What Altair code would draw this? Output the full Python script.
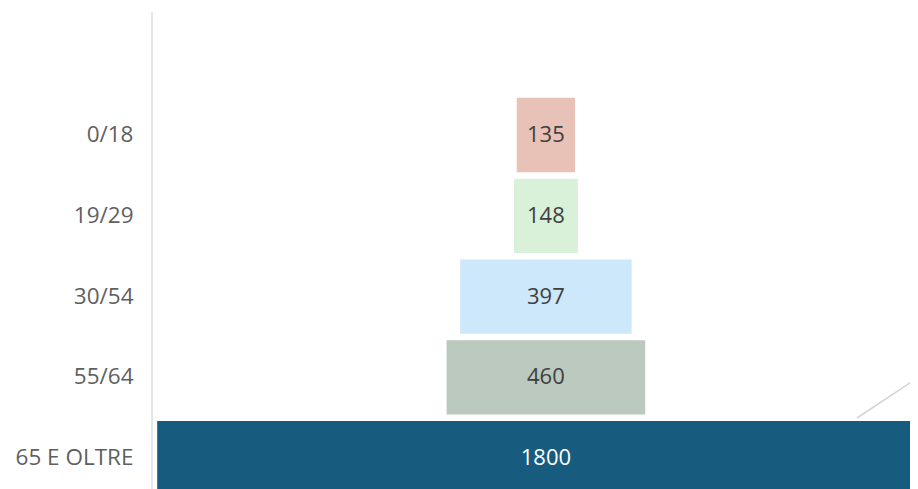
import altair as alt
import pandas as pd

categories = ["0/18", "19/29", "30/54", "55/64", "65 E OLTRE"]
values = [135, 148, 397, 460, 1800]
bar_colors = ["#e8c1b7", "#d8f1d8", "#cde8fb", "#bbc9bf", "#175c7e"]
text_colors = ["#404040", "#404040", "#404040", "#404040", "#ffffff"]

df = pd.DataFrame({
    "cat": categories,
    "value": values,
    "color": bar_colors,
    "tcolor": text_colors,
})

W, H = 758, 481

yscale = alt.Scale(domain=categories, range=[86.6, 490.6],
                   paddingInner=0.08, paddingOuter=0.04)
xscale = alt.Scale(domain=[-912, 843], nice=False, zero=False)

base = alt.Chart(df).transform_calculate(
    left="-datum.value/2", right="datum.value/2", mid="0"
)

bars = base.mark_bar(clip=True).encode(
    y=alt.Y("cat:N", scale=yscale, sort=categories,
            axis=alt.Axis(title=None, domain=False, ticks=False, grid=False,
                          labelFontSize=22.5, labelColor="#5f5f5f",
                          labelFont="Open Sans", labelPadding=19)),
    x=alt.X("left:Q", scale=xscale, axis=None),
    x2="right:Q",
    color=alt.Color("color:N", scale=None),
)

labels = base.mark_text(fontSize=22, font="Open Sans").encode(
    y=alt.Y("cat:N", scale=yscale, sort=categories),
    x=alt.X("mid:Q", scale=xscale),
    text=alt.Text("value:Q"),
    color=alt.Color("tcolor:N", scale=None),
)

axis_line = alt.Chart(df.head(1)).mark_rule(color="#d6d6d6", strokeWidth=1.2).encode(
    x=alt.value(0), y=alt.value(4), y2=alt.value(H)
)

deco = alt.Chart(df.head(1)).mark_rule(color="#d4d4d4", strokeWidth=1.5).encode(
    x=alt.value(705), y=alt.value(410), x2=alt.value(770), y2=alt.value(367)
)

chart = alt.layer(deco, bars, labels, axis_line).properties(
    width=W, height=H,
    background="white",
    autosize=alt.AutoSizeParams(type="none"),
    padding={"left": 144, "top": 0, "right": 0, "bottom": 0},
).configure_view(stroke=None)

chart.save("out.html", embed_options={"renderer": "svg", "actions": False})
